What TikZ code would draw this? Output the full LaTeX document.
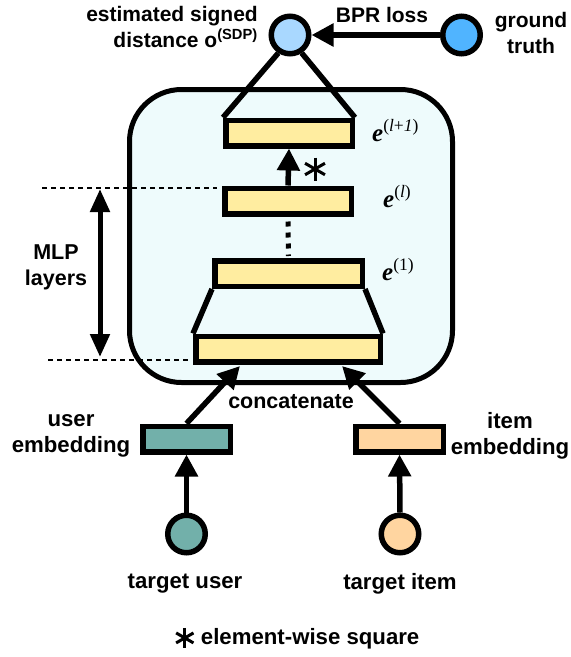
\documentclass[tikz,border=0pt]{standalone}
\usepackage{fontspec}
\setmainfont{Liberation Sans}
\newfontfamily\serifel{Liberation Serif}
\usetikzlibrary{arrows.meta}
\definecolor{sdpblue}{HTML}{A9D8FF}
\definecolor{gtblue}{HTML}{50B4FF}
\definecolor{panel}{HTML}{EEFBFC}
\definecolor{layer}{HTML}{FFEDA0}
\definecolor{teal}{HTML}{72B0AA}
\definecolor{peach}{HTML}{FFD5A0}
\newcommand{\heavyast}[1]{\tikz[baseline=-0.6ex]{\foreach \a in {90,30,150}{\draw[line width=3pt] (\a:#1) -- (\a+180:#1);}}}
\tikzset{
  lbl/.style={font=\fontsize{21.5}{26}\selectfont\bfseries, align=center, inner sep=0pt},
  toplbl/.style={lbl, font=\fontsize{21}{26}\selectfont\bfseries},
  botlbl/.style={lbl, font=\fontsize{22.2}{26}\selectfont\bfseries},
  elbl/.style={font=\fontsize{25}{27}\selectfont\serifel, inner sep=0pt, anchor=base west},
  lay/.style={draw, line width=5.5pt, fill=layer, minimum height=25.5pt, inner sep=0pt},
  emb/.style={draw, line width=5.5pt, minimum width=87.5pt, minimum height=25.5pt, inner sep=0pt},
  circ/.style={draw, circle, line width=5.5pt, minimum size=37.5pt, inner sep=0pt},
  con/.style={line width=5.5pt},
  arr/.style={line width=5.5pt, -{Triangle[length=22pt,width=22pt]}},
}
\begin{document}
\begin{tikzpicture}[x=1pt,y=-1pt]
\useasboundingbox (0,0) rectangle (571,657);
% panel
\node[draw, line width=5pt, fill=panel, rounded corners=52pt, minimum width=323pt, minimum height=293pt, inner sep=0pt] (panel) at (291,236) {};
% layers
\node[lay, minimum width=126.5pt] (top) at (289,133) {};
\node[lay, minimum width=126.5pt] (el) at (288,201) {};
\node[lay, minimum width=147.5pt] (e1) at (288.5,273.5) {};
\node[lay, minimum width=184.5pt] (base) at (288,349) {};
% circles
\node[circ, fill=sdpblue] (sdp) at (290,35) {};
\node[circ, fill=gtblue] (gt) at (461.5,35) {};
\node[circ, fill=teal] (tu) at (186.5,534) {};
\node[circ, fill=peach] (ti) at (400,534) {};
% embeddings
\node[emb, fill=teal] (ue) at (186.5,439) {};
\node[emb, fill=peach] (ie) at (399.5,439) {};
% texts
\node[toplbl, anchor=east, align=right] (sdptxt) at (258,27) {estimated signed\\distance o\textsuperscript{(SDP)}};
\node[toplbl] (bpr) at (382,15) {BPR loss};
\node[toplbl] (gttxt) at (531,33) {ground\\truth};
\node[elbl] (lp1) at (372,141) {\textit{\bfseries e}\textsuperscript{(\textit{l}+\textit{1})}};
\node[elbl] (ll) at (383,207) {\textit{\bfseries e}\textsuperscript{(\textit{l})}};
\node[elbl] (l1) at (382,280) {\textit{\bfseries e}\textsuperscript{(1)}};
\node[lbl] (mlp) at (56,267) {MLP\\layers};
\node[lbl] (cat) at (291,402) {concatenate};
\node[botlbl] (uetxt) at (71,436) {user\\embedding};
\node[botlbl] (ietxt) at (510,436) {item\\embedding};
\node[botlbl] (tutxt) at (185,584) {target user};
\node[botlbl] (titxt) at (400,584) {target item};
\node[botlbl] (legend) at (297,638) {\heavyast{10pt}\hspace{6pt}element-wise square};
\node[inner sep=0pt] (star) at (315,169) {\heavyast{11.5pt}};
% connectors
\draw[arr] (gt) -- (sdp);
\draw[con] (sdp.237) -- (top.north west);
\draw[con] (sdp.303) -- (top.north east);
\draw[arr] (el.north) -- (top.south);
\draw[line width=5pt, dash pattern=on 5pt off 6pt] ([yshift=-5pt]el.south) -- ([yshift=2pt]e1.north);
\draw[con] (e1.south west) -- (base.north west);
\draw[con] (e1.south east) -- (base.north east);
\coordinate (catL) at (240,366);
\coordinate (catR) at (342,366);
\draw[arr] (ue.north) -- (catL);
\draw[arr] (ie.north) -- (catR);
\draw[arr] (tu.north) -- (ue.south);
\draw[arr] (ti.north) -- (ie.south);
% MLP bracket
\coordinate (dtop) at (42,188);
\coordinate (dbot) at (48,360);
\draw[line width=2.5pt, dash pattern=on 5pt off 4pt] (dtop) -- ([xshift=-5pt]el.west |- dtop);
\draw[line width=2.5pt, dash pattern=on 5pt off 4pt] (dbot) -- ([xshift=-5pt]base.west |- dbot);
\coordinate (bt) at (100,189);
\coordinate (bb) at (100,357);
\draw[line width=5pt, {Triangle[length=23pt,width=19pt]}-{Triangle[length=23pt,width=19pt]}] (bt) -- (bb);
\end{tikzpicture}
\end{document}
